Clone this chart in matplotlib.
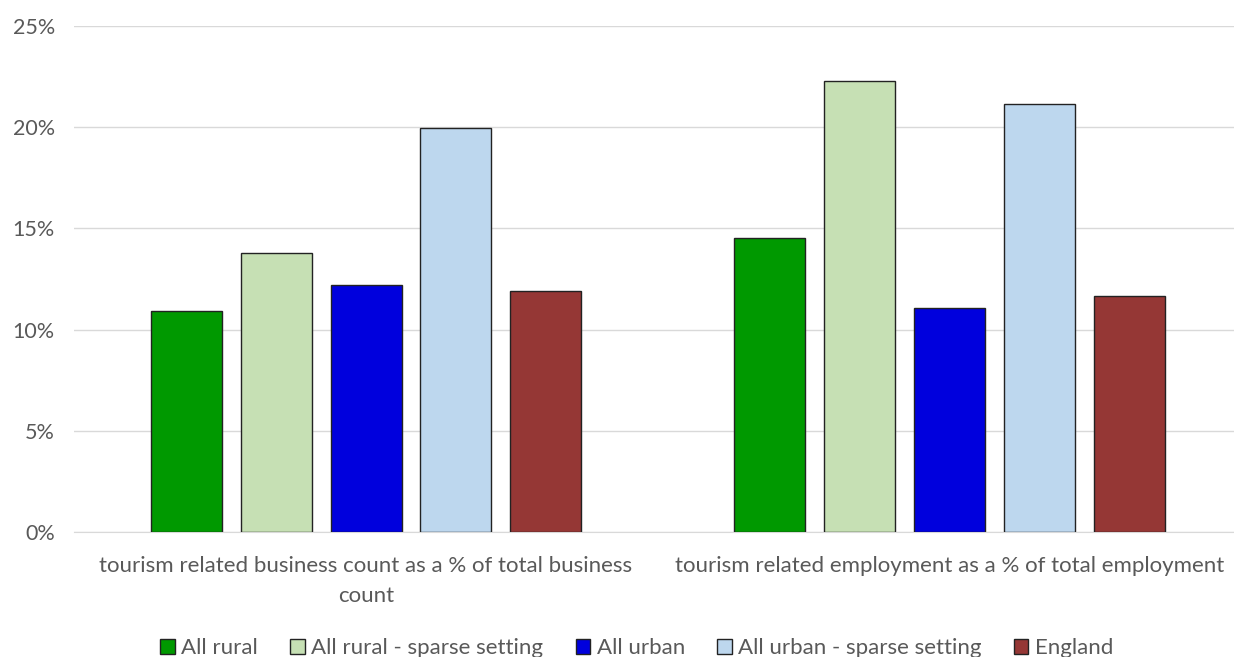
import numpy as np
import matplotlib.pyplot as plt

categories = ['tourism related business count as a % of total business\ncount',
              'tourism related employment as a % of total employment']
series = ['All rural', 'All rural - sparse setting', 'All urban',
          'All urban - sparse setting', 'England']
values = [
    [10.9, 14.55],   # All rural
    [13.8, 22.3],    # All rural - sparse setting
    [12.2, 11.05],   # All urban
    [19.95, 21.15],  # All urban - sparse setting
    [11.9, 11.65],   # England
]
colors = ['#009900', '#C6E0B4', '#0000DD', '#BDD7EE', '#953735']

plt.rcParams['font.family'] = ['Lato', 'DejaVu Sans']

fig = plt.figure(figsize=(12.34, 6.57), dpi=100)
ax = fig.add_axes([0.0602, 0.1903, 0.9457, 0.7701])

x = np.arange(len(categories))
width = 0.1217
step = 0.154
for i, (name, vals) in enumerate(zip(series, values)):
    ax.bar(x + (i - 2) * step, vals, width, color=colors[i], edgecolor='#222222',
           linewidth=1.0, label=name, zorder=3)

ax.set_xlim(-0.5, 1.5)
ax.set_ylim(0, 25)
ax.set_yticks(range(0, 26, 5))
ax.set_yticklabels([f'{v}%' for v in range(0, 26, 5)], color='#595959', fontsize=15.5)
ax.set_xticks(x)
ax.set_xticklabels(categories, color='#595959', fontsize=16, linespacing=1.65)
ax.tick_params(axis='x', length=0, pad=17)
ax.tick_params(axis='y', length=0, pad=14)
ax.grid(axis='y', color='#D9D9D9', linewidth=1.0, zorder=0)
for s in ['top', 'right', 'left']:
    ax.spines[s].set_visible(False)
ax.spines['bottom'].set_color('#D9D9D9')

ax.legend(loc='upper center', bbox_to_anchor=(0.482, -0.17), ncol=5, frameon=False,
          fontsize=16, labelcolor='#595959', handlelength=0.65, handleheight=0.65,
          handletextpad=0.3, columnspacing=1.45)

fig.savefig('out.png', dpi=100)
